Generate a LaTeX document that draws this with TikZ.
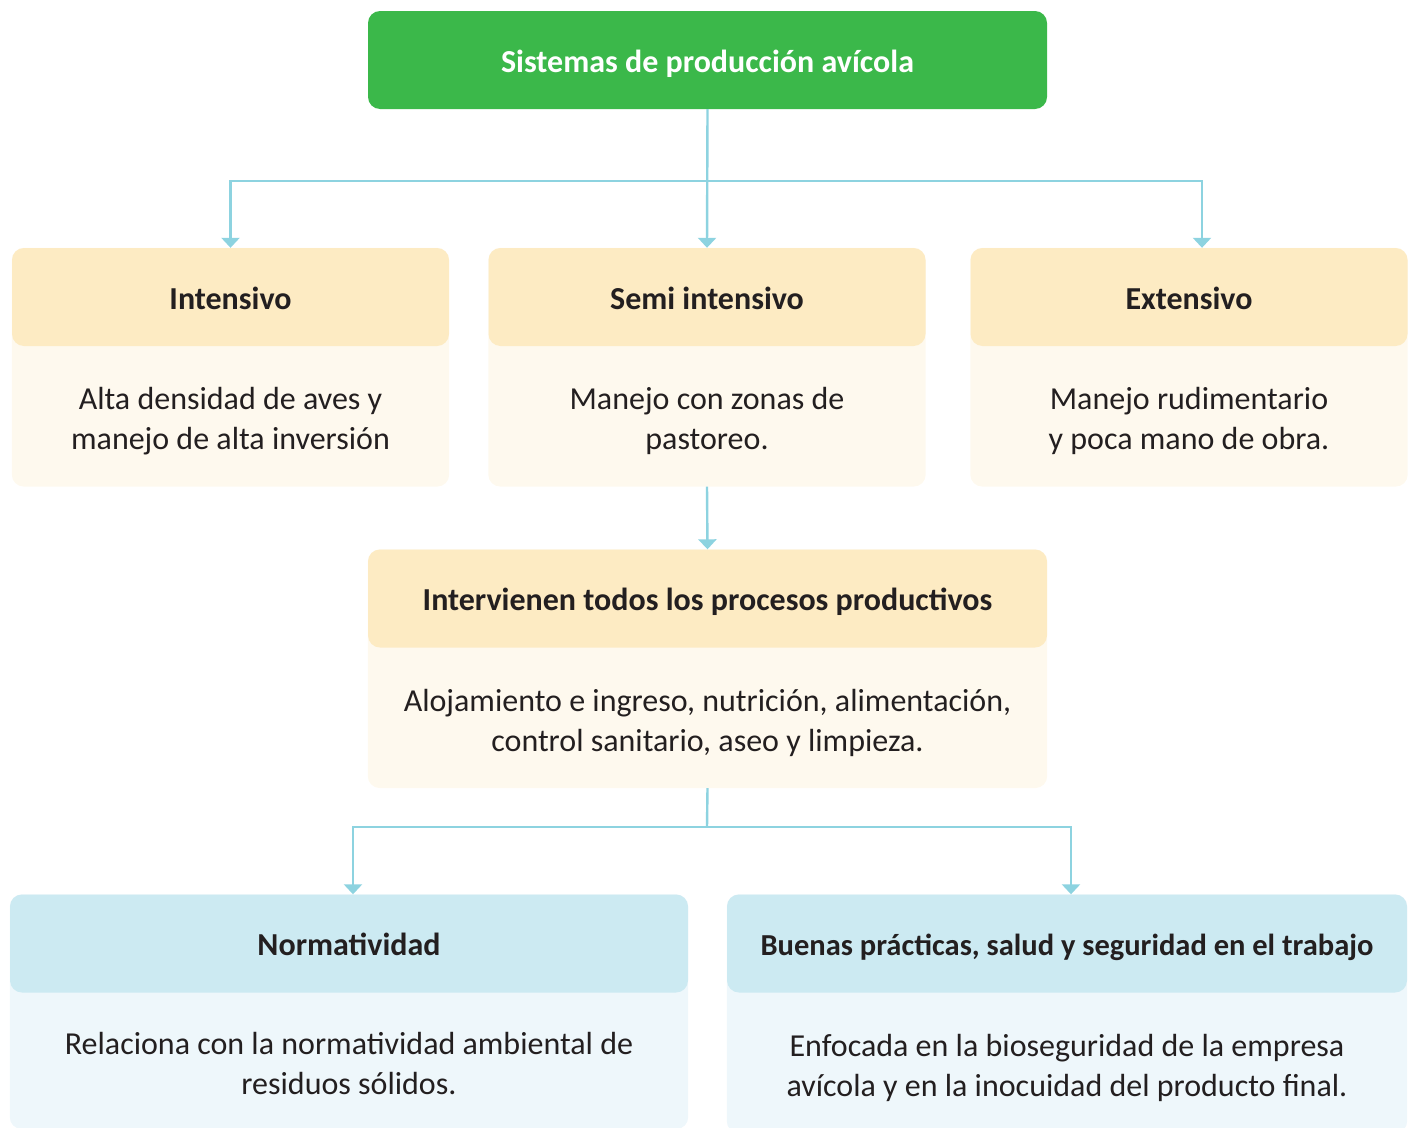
\documentclass[tikz,border=0pt]{standalone}
\usepackage{fontspec}
\setmainfont{Carlito}
\usetikzlibrary{positioning}
\usetikzlibrary{arrows.meta}
\usetikzlibrary{backgrounds}

\definecolor{avegreen}{RGB}{59,184,74}
\definecolor{yelhead}{RGB}{253,235,195}
\definecolor{yelbody}{RGB}{254,249,238}
\definecolor{bluhead}{RGB}{204,234,242}
\definecolor{blubody}{RGB}{238,247,251}
\definecolor{linkblue}{RGB}{141,211,224}
\definecolor{inktext}{RGB}{35,31,32}

\tikzset{
  head/.style={rounded corners=12pt, minimum height=98pt, inner sep=0pt,
    text height=30pt, text depth=5.5pt,
    font=\fontsize{32}{38}\selectfont\bfseries, text=inktext},
  headY/.style={head, fill=yelhead},
  headB/.style={head, fill=bluhead},
  body/.style={minimum height=130pt, inner sep=0pt, align=center,
    font=\fontsize{32}{40}\selectfont, text=inktext},
  wire/.style={draw=linkblue, line width=2.4pt},
  link/.style={wire, -{Triangle[width=18pt,length=10pt]}},
}

\begin{document}
\begin{tikzpicture}[x=1pt,y=-1pt]
  \useasboundingbox (0,0) rectangle (1413,1127);

  \node[head, fill=avegreen, text=white, minimum width=679pt]
  (root) at (707.5,60) {Sistemas de producción avícola};

  % tipos de sistema
  \node[headY, minimum width=437pt] (hInt) at (230.5,297) {Intensivo};
  \node[body, minimum width=437pt, below=10pt of hInt]
  (tInt) {Alta densidad de aves y\\manejo de alta inversión};
  \node[headY, minimum width=437pt] (hSemi) at (707,297) {Semi intensivo};
  \node[body, minimum width=437pt, below=10pt of hSemi]
  (tSemi) {Manejo con zonas de\\pastoreo.};
  \node[headY, minimum width=437pt] (hExt) at (1189,297) {Extensivo};
  \node[body, minimum width=437pt, below=10pt of hExt]
  (tExt) {Manejo rudimentario\\y poca mano de obra.};

  \node[headY, minimum width=679pt] (hMid) at (707.5,598.5)
  {Intervienen todos los procesos productivos};
  \node[body, minimum width=679pt, below=10pt of hMid]
  (tMid) {Alojamiento e ingreso, nutrición, alimentación,\\control sanitario, aseo y limpieza.};

  \node[headB, minimum width=678pt] (hNorm) at (349,943.5) {Normatividad};
  \node[body, minimum width=678pt, below=6pt of hNorm]
  (tNorm) {Relaciona con la normatividad ambiental de\\residuos sólidos.};
  \node[headB, minimum width=680pt, font=\fontsize{30.5}{38}\selectfont\bfseries]
  (hBuen) at (1067,943.5) {Buenas prácticas, salud y seguridad en el trabajo};
  \node[body, minimum width=680pt, below=10pt of hBuen]
  (tBuen) {Enfocada en la bioseguridad de la empresa\\avícola y en la inocuidad del producto final.};

  \begin{scope}[on background layer]
    \foreach \h/\t/\c in {hInt/tInt/yelbody, hSemi/tSemi/yelbody,
      hExt/tExt/yelbody, hMid/tMid/yelbody,
      hNorm/tNorm/blubody, hBuen/tBuen/blubody}
    \fill[\c, rounded corners=12pt] (\h.north west) rectangle (\t.south east);
  \end{scope}

  % conectores
  \coordinate (fork1) at (707,181);
  \coordinate (fork2) at (707,827);
  \draw[link] (root.south) -- (hSemi.north);
  \draw[link] (fork1) -| (hInt.north);
  \draw[link] (fork1) -| ([xshift=13pt]hExt.north);
  \draw[link] (tSemi.south) -- (hMid.north);
  \draw[wire] (tMid.south) -- (fork2);
  \draw[link] (fork2) -| ([xshift=4pt]hNorm.north);
  \draw[link] (fork2) -| ([xshift=4pt]hBuen.north);

\end{tikzpicture}
\end{document}
